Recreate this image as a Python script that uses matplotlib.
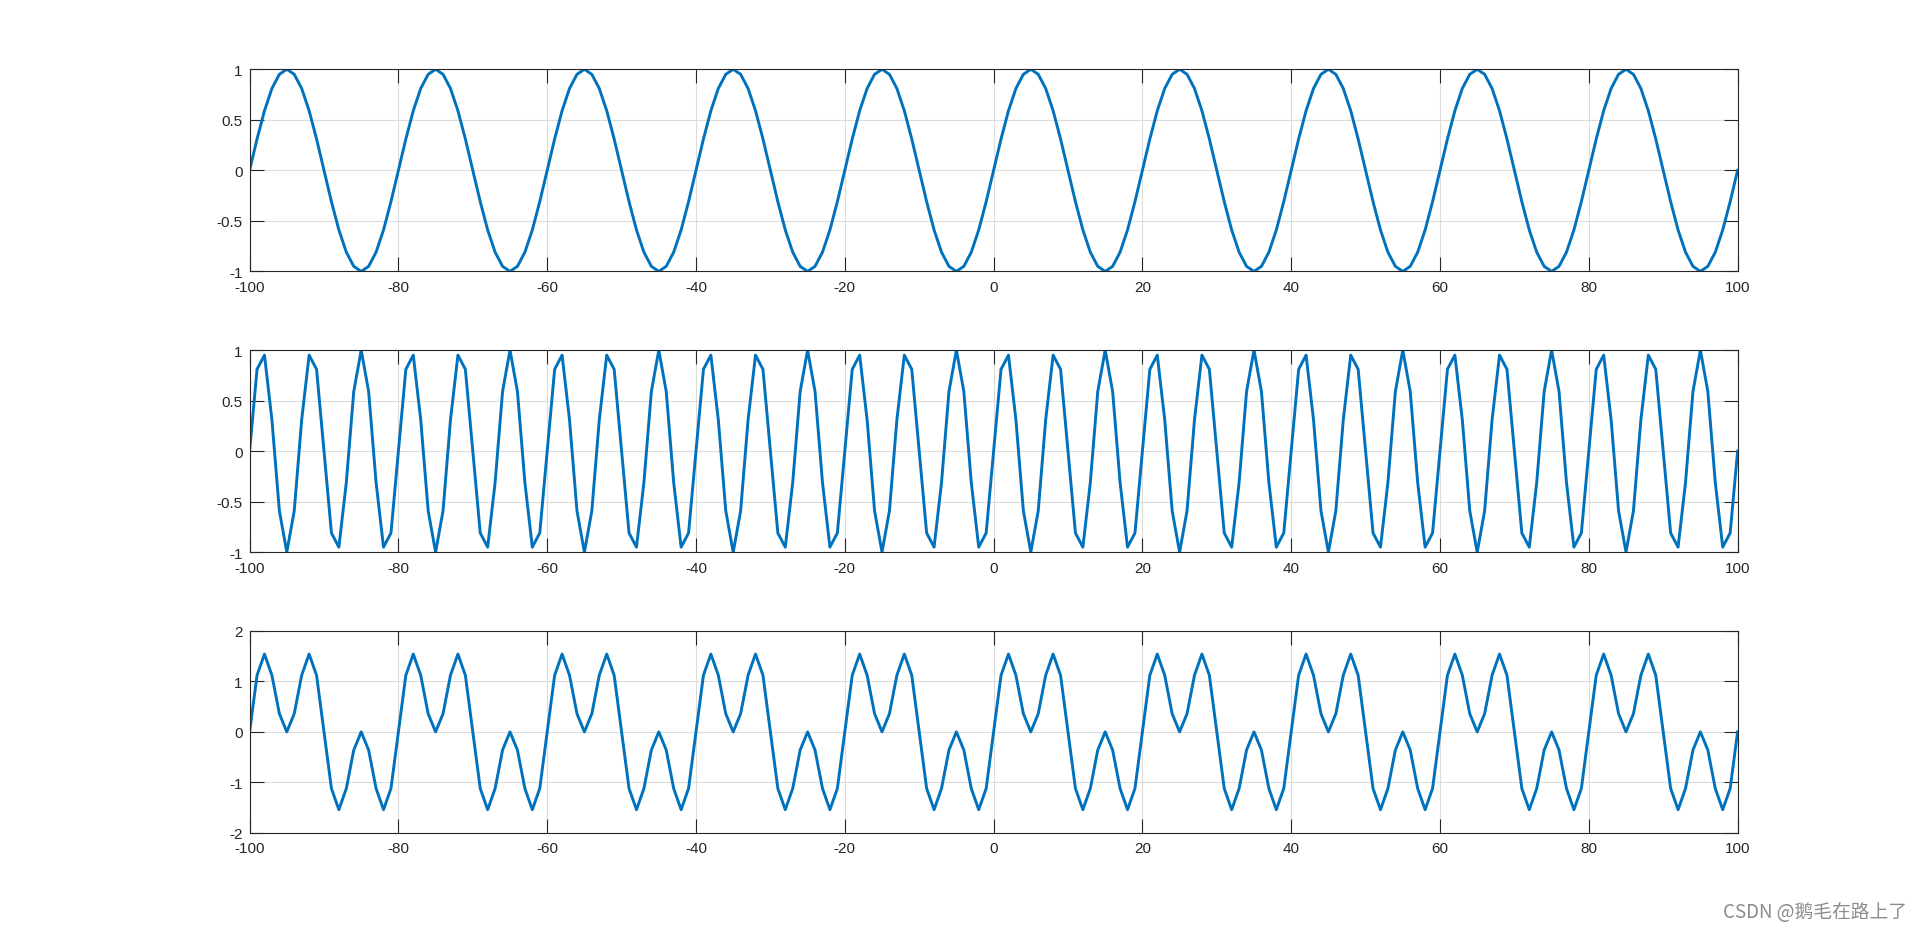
import matplotlib.pyplot as plt

# 采样时刻 t = -100 ... 100
t = list(range(-100, 101))

# 第一行：低频正弦
x1 = [
    0, 0.31, 0.59, 0.81, 0.95, 1, 0.95, 0.81, 0.59, 0.31, 0, -0.31, -0.59, -0.81, -0.95, -1, -0.95, -0.81, -0.59, -0.31,
    0, 0.31, 0.59, 0.81, 0.95, 1, 0.95, 0.81, 0.59, 0.31, 0, -0.31, -0.59, -0.81, -0.95, -1, -0.95, -0.81, -0.59, -0.31,
    0, 0.31, 0.59, 0.81, 0.95, 1, 0.95, 0.81, 0.59, 0.31, 0, -0.31, -0.59, -0.81, -0.95, -1, -0.95, -0.81, -0.59, -0.31,
    0, 0.31, 0.59, 0.81, 0.95, 1, 0.95, 0.81, 0.59, 0.31, 0, -0.31, -0.59, -0.81, -0.95, -1, -0.95, -0.81, -0.59, -0.31,
    0, 0.31, 0.59, 0.81, 0.95, 1, 0.95, 0.81, 0.59, 0.31, 0, -0.31, -0.59, -0.81, -0.95, -1, -0.95, -0.81, -0.59, -0.31,
    0, 0.31, 0.59, 0.81, 0.95, 1, 0.95, 0.81, 0.59, 0.31, 0, -0.31, -0.59, -0.81, -0.95, -1, -0.95, -0.81, -0.59, -0.31,
    0, 0.31, 0.59, 0.81, 0.95, 1, 0.95, 0.81, 0.59, 0.31, 0, -0.31, -0.59, -0.81, -0.95, -1, -0.95, -0.81, -0.59, -0.31,
    0, 0.31, 0.59, 0.81, 0.95, 1, 0.95, 0.81, 0.59, 0.31, 0, -0.31, -0.59, -0.81, -0.95, -1, -0.95, -0.81, -0.59, -0.31,
    0, 0.31, 0.59, 0.81, 0.95, 1, 0.95, 0.81, 0.59, 0.31, 0, -0.31, -0.59, -0.81, -0.95, -1, -0.95, -0.81, -0.59, -0.31,
    0, 0.31, 0.59, 0.81, 0.95, 1, 0.95, 0.81, 0.59, 0.31, 0, -0.31, -0.59, -0.81, -0.95, -1, -0.95, -0.81, -0.59, -0.31,
    0,
]

# 第二行：高频正弦
x2 = [
    0, 0.81, 0.95, 0.31, -0.59, -1, -0.59, 0.31, 0.95, 0.81, 0, -0.81, -0.95, -0.31, 0.59, 1, 0.59, -0.31, -0.95, -0.81,
    0, 0.81, 0.95, 0.31, -0.59, -1, -0.59, 0.31, 0.95, 0.81, 0, -0.81, -0.95, -0.31, 0.59, 1, 0.59, -0.31, -0.95, -0.81,
    0, 0.81, 0.95, 0.31, -0.59, -1, -0.59, 0.31, 0.95, 0.81, 0, -0.81, -0.95, -0.31, 0.59, 1, 0.59, -0.31, -0.95, -0.81,
    0, 0.81, 0.95, 0.31, -0.59, -1, -0.59, 0.31, 0.95, 0.81, 0, -0.81, -0.95, -0.31, 0.59, 1, 0.59, -0.31, -0.95, -0.81,
    0, 0.81, 0.95, 0.31, -0.59, -1, -0.59, 0.31, 0.95, 0.81, 0, -0.81, -0.95, -0.31, 0.59, 1, 0.59, -0.31, -0.95, -0.81,
    0, 0.81, 0.95, 0.31, -0.59, -1, -0.59, 0.31, 0.95, 0.81, 0, -0.81, -0.95, -0.31, 0.59, 1, 0.59, -0.31, -0.95, -0.81,
    0, 0.81, 0.95, 0.31, -0.59, -1, -0.59, 0.31, 0.95, 0.81, 0, -0.81, -0.95, -0.31, 0.59, 1, 0.59, -0.31, -0.95, -0.81,
    0, 0.81, 0.95, 0.31, -0.59, -1, -0.59, 0.31, 0.95, 0.81, 0, -0.81, -0.95, -0.31, 0.59, 1, 0.59, -0.31, -0.95, -0.81,
    0, 0.81, 0.95, 0.31, -0.59, -1, -0.59, 0.31, 0.95, 0.81, 0, -0.81, -0.95, -0.31, 0.59, 1, 0.59, -0.31, -0.95, -0.81,
    0, 0.81, 0.95, 0.31, -0.59, -1, -0.59, 0.31, 0.95, 0.81, 0, -0.81, -0.95, -0.31, 0.59, 1, 0.59, -0.31, -0.95, -0.81,
    0,
]

# 第三行：两者叠加
x3 = [
    0, 1.12, 1.54, 1.12, 0.36, 0, 0.36, 1.12, 1.54, 1.12, 0, -1.12, -1.54, -1.12, -0.36, 0, -0.36, -1.12, -1.54, -1.12,
    0, 1.12, 1.54, 1.12, 0.36, 0, 0.36, 1.12, 1.54, 1.12, 0, -1.12, -1.54, -1.12, -0.36, 0, -0.36, -1.12, -1.54, -1.12,
    0, 1.12, 1.54, 1.12, 0.36, 0, 0.36, 1.12, 1.54, 1.12, 0, -1.12, -1.54, -1.12, -0.36, 0, -0.36, -1.12, -1.54, -1.12,
    0, 1.12, 1.54, 1.12, 0.36, 0, 0.36, 1.12, 1.54, 1.12, 0, -1.12, -1.54, -1.12, -0.36, 0, -0.36, -1.12, -1.54, -1.12,
    0, 1.12, 1.54, 1.12, 0.36, 0, 0.36, 1.12, 1.54, 1.12, 0, -1.12, -1.54, -1.12, -0.36, 0, -0.36, -1.12, -1.54, -1.12,
    0, 1.12, 1.54, 1.12, 0.36, 0, 0.36, 1.12, 1.54, 1.12, 0, -1.12, -1.54, -1.12, -0.36, 0, -0.36, -1.12, -1.54, -1.12,
    0, 1.12, 1.54, 1.12, 0.36, 0, 0.36, 1.12, 1.54, 1.12, 0, -1.12, -1.54, -1.12, -0.36, 0, -0.36, -1.12, -1.54, -1.12,
    0, 1.12, 1.54, 1.12, 0.36, 0, 0.36, 1.12, 1.54, 1.12, 0, -1.12, -1.54, -1.12, -0.36, 0, -0.36, -1.12, -1.54, -1.12,
    0, 1.12, 1.54, 1.12, 0.36, 0, 0.36, 1.12, 1.54, 1.12, 0, -1.12, -1.54, -1.12, -0.36, 0, -0.36, -1.12, -1.54, -1.12,
    0, 1.12, 1.54, 1.12, 0.36, 0, 0.36, 1.12, 1.54, 1.12, 0, -1.12, -1.54, -1.12, -0.36, 0, -0.36, -1.12, -1.54, -1.12,
    0,
]

x_ticks = [-100, -80, -60, -40, -20, 0, 20, 40, 60, 80, 100]
y_ticks_list = [
    [-1, -0.5, 0, 0.5, 1],
    [-1, -0.5, 0, 0.5, 1],
    [-2, -1, 0, 1, 2],
]
y_labels_list = [
    ['-1', '-0.5', '0', '0.5', '1'],
    ['-1', '-0.5', '0', '0.5', '1'],
    ['-2', '-1', '0', '1', '2'],
]
y_lims = [(-1, 1), (-1, 1), (-2, 2)]
series = [x1, x2, x3]

plt.rcParams['font.family'] = ['Liberation Sans', 'DejaVu Sans']

fig = plt.figure(figsize=(19.2, 9.37), dpi=100)
line_color = '#0072BD'
axis_color = '#262626'

# MATLAB 默认的 subplot 位置
bottoms = [0.7093, 0.4096, 0.11]
for i in range(3):
    ax = fig.add_axes([0.13, bottoms[i], 0.775, 0.2157])
    ax.plot(t, series[i], color=line_color, linewidth=2.1)
    ax.set_xlim(-100, 100)
    ax.set_ylim(*y_lims[i])
    ax.set_xticks(x_ticks)
    ax.set_xticklabels([str(v) for v in x_ticks])
    ax.set_yticks(y_ticks_list[i])
    ax.set_yticklabels(y_labels_list[i])
    ax.grid(True, color='#dcdcdc', linewidth=0.8)
    ax.set_axisbelow(True)
    ax.tick_params(direction='in', length=10, width=0.8, colors=axis_color,
                   labelsize=11, top=True, right=True)
    ax.tick_params(axis='x', pad=6)
    ax.tick_params(axis='y', pad=5)
    for sp in ax.spines.values():
        sp.set_color(axis_color)
        sp.set_linewidth(0.8)

fig.text(0.993, 0.026, 'CSDN @鹅毛在路上了', ha='right', va='center',
         fontsize=13.5, color='#8c8c8c',
         family=['Noto Sans CJK SC', 'DejaVu Sans'])

fig.savefig('out.png', dpi=100, facecolor='white')
